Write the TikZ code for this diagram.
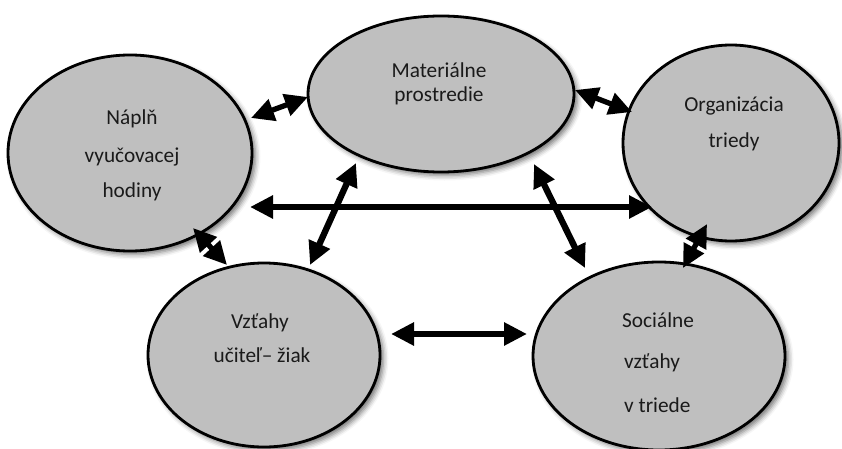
\documentclass[tikz,border=0pt]{standalone}
\usepackage{fontspec}
\setmainfont{Carlito}
\usetikzlibrary{shapes.geometric,arrows.meta,shadows.blur}
\definecolor{ellfill}{HTML}{BFBFBF}
\definecolor{txt}{HTML}{1A1A1A}
\tikzset{
  ell/.style={ellipse, draw=black, line width=2.8pt, fill=ellfill, inner sep=0pt,
    blur shadow={shadow xshift=3.5pt, shadow yshift=-3.5pt, shadow blur radius=5pt, shadow opacity=55}},
  lbl/.style={anchor=base, text=txt, font=\fontsize{21.3}{24}\selectfont, inner sep=0pt},
  lbll/.style={anchor=base west, text=txt, font=\fontsize{21.3}{24}\selectfont, inner sep=0pt},
  dbl/.style={line width=6.3pt, {Triangle[length=23pt,width=22pt]}-{Triangle[length=23pt,width=22pt]}},
  dbls/.style={dbl, line width=5.3pt},
}
\begin{document}
\begin{tikzpicture}[x=1pt,y=-1pt]
\useasboundingbox (0,0) rectangle (842,449);
% ellipses
\node[ell, minimum width=244pt, minimum height=196pt] (e1) at (130,153) {};
\node[ell, minimum width=266pt, minimum height=156pt] (e2) at (441,94) {};
\node[ell, minimum width=216pt, minimum height=196pt] (e3) at (731,143) {};
\node[ell, minimum width=232pt, minimum height=184pt] (e4) at (264,355) {};
\node[ell, minimum width=252pt, minimum height=188pt] (e5) at (659,356) {};
% labels
\node[lbl] (t1a) at (132,125) {Náplň};
\node[lbl] (t1b) at (132,162) {vyučovacej};
\node[lbl] (t1c) at (132,197) {hodiny};
\node[lbl] (t2a) at (439,78) {Materiálne};
\node[lbl] (t2b) at (439,102) {prostredie};
\node[lbl] (t3a) at (734,112) {Organizácia};
\node[lbl] (t3b) at (734,148) {triedy};
\node[lbl] (t4a) at (260,328) {Vzťahy};
\node[lbl] (t4b) at (262,362) {učiteľ– žiak};
\node[lbll] (t5a) at (622,327) {Sociálne};
\node[lbll] (t5b) at (624,368) {vzťahy};
\node[lbll] (t5c) at (624,412) {v triede};
% arrow end points
\coordinate (a1s) at (251,118); \coordinate (a1e) at (308,97);
\coordinate (a2s) at (575,90);  \coordinate (a2e) at (632,112);
\coordinate (a3s) at (250,207); \coordinate (a3e) at (652,207);
\coordinate (a4s) at (193,228); \coordinate (a4e) at (227,265);
\coordinate (a5s) at (356,163); \coordinate (a5e) at (310,265);
\coordinate (a6s) at (534,164); \coordinate (a6e) at (585,268);
\coordinate (a7s) at (707,224); \coordinate (a7e) at (683,268);
\coordinate (a8s) at (391,334); \coordinate (a8e) at (527,334);
\draw[dbls] (a1s) -- (a1e);
\draw[dbls] (a2s) -- (a2e);
\draw[dbl] (a3s) -- (a3e);
\draw[dbls] (a4s) -- (a4e);
\draw[dbl] (a5s) -- (a5e);
\draw[dbl] (a6s) -- (a6e);
\draw[dbls] (a7s) -- (a7e);
\draw[dbl] (a8s) -- (a8e);
\end{tikzpicture}
\end{document}
